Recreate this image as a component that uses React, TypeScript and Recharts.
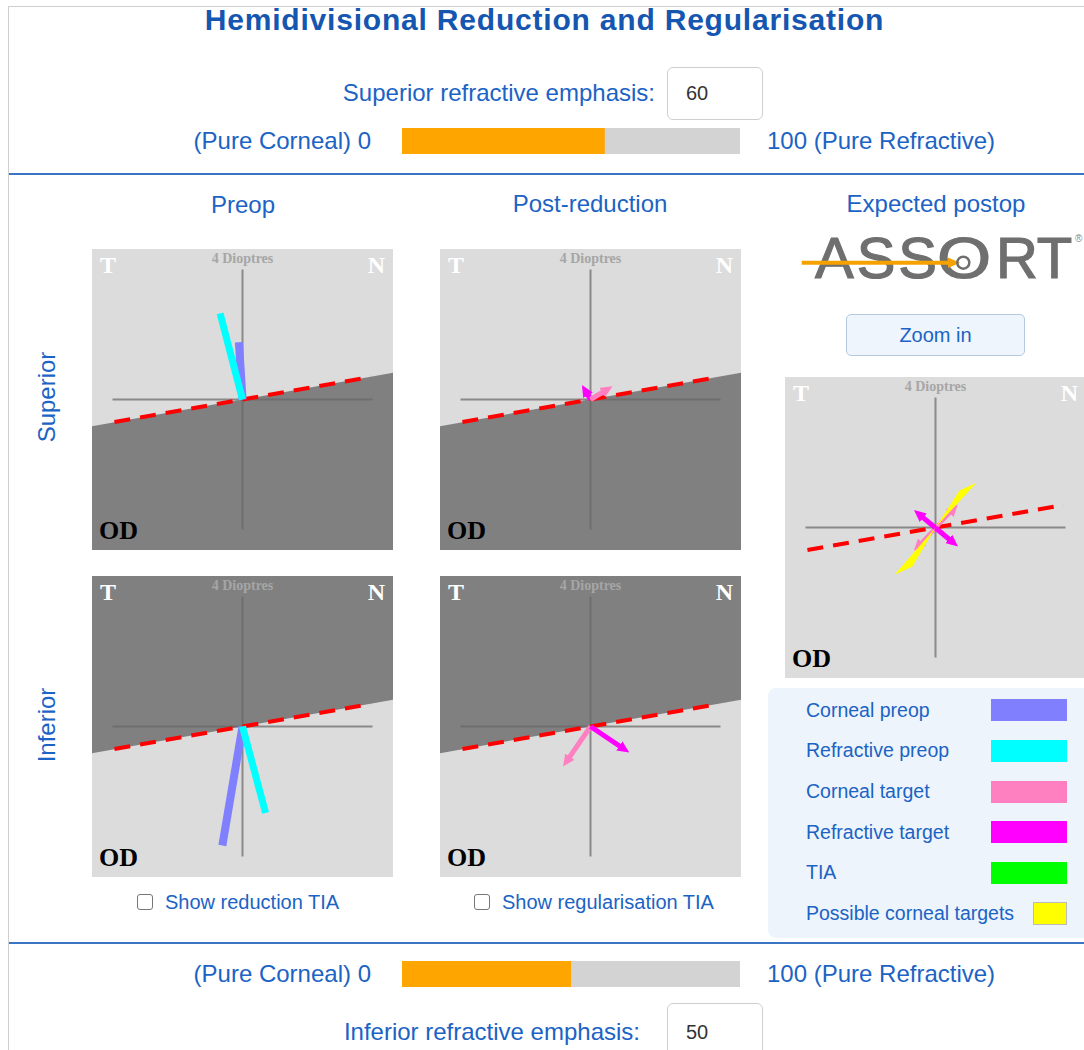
import React from 'react';
import { ComposedChart, BarChart, Bar, XAxis, YAxis, Line, Area, Scatter } from 'recharts';

const SANS = '"Liberation Sans", Arial, sans-serif';
const SERIF = '"Liberation Serif", "Times New Roman", serif';
const BLUE = '#1b63c4';

// refractive emphasis sliders (0 = pure corneal, 100 = pure refractive)
const superiorEmphasis = [{ name: 'Superior', value: 60 }];
const inferiorEmphasis = [{ name: 'Inferior', value: 50 }];

// plot extent, dioptres (axis arms are 4 D)
const LIMIT = 4.63;
const axisH = [{ x: -4, y: 0 }, { x: 4, y: 0 }];
const axisV = [{ x: 0, y: -4 }, { x: 0, y: 4 }];
const meridian = [{ x: -3.94, y: -0.69 }, { x: 3.94, y: 0.69 }];
const hemiEdge = [{ x: -4.63, y: -0.82 }, { x: 4.63, y: 0.82 }];

// preop vectors
const supCornealPreop = [{ x: 0, y: 0 }, { x: -0.11, y: 1.76 }];
const supRefractivePreop = [{ x: 0, y: 0 }, { x: -0.69, y: 2.65 }];
const infCornealPreop = [{ x: 0, y: 0 }, { x: -0.62, y: -3.66 }];
const infRefractivePreop = [{ x: 0, y: 0 }, { x: 0.71, y: -2.66 }];

// post-reduction targets
const supCornealTarget = [{ x: 0, y: 0 }, { x: 0.52, y: 0.31 }];
const supRefractiveTarget = [{ x: 0, y: 0 }, { x: -0.17, y: 0.29 }];
const infCornealTarget = [{ x: 0, y: 0 }, { x: -0.74, y: -1.08 }];
const infRefractiveTarget = [{ x: 0, y: 0 }, { x: 1.04, y: -0.7 }];

// expected postop
const postCornealTarget = [{ x: -0.54, y: -0.58 }, { x: 0.56, y: 0.57 }];
const postRefractiveTarget = [{ x: -0.52, y: 0.42 }, { x: 0.55, y: -0.47 }];
const possibleCornealTargets = [
  { x: 1.26, y: 1.38 }, { x: 0.74, y: 1.14 }, { x: 0, y: 0 },
  { x: -1.26, y: -1.45 }, { x: -0.71, y: -1.2 }, { x: 0, y: 0 },
];

const legendLabels = ['Corneal preop', 'Refractive preop', 'Corneal target', 'Refractive target', 'TIA', 'Possible corneal targets'];
const legendColors = ['#8080ff', '#00ffff', '#ff80c0', '#ff00ff', '#00ff00', '#ffff00'];

interface Vec {
  data: { x: number; y: number }[];
  color: string;
  width: number;
  arrow?: 'end' | 'both';
  marker?: string;
}

function Panel({ left, top, shade, vectors, polygon }: {
  left: number; top: number; shade: 'below' | 'above' | null; vectors: Vec[]; polygon?: { x: number; y: number }[];
}) {
  return (
    <div style={{ position: 'absolute', left, top, width: 301, height: 301, background: '#dcdcdc' }}>
      <ComposedChart width={301} height={301} margin={{ top: 0, right: 0, bottom: 0, left: 0 }}>
        <XAxis type="number" dataKey="x" domain={[-LIMIT, LIMIT]} allowDataOverflow hide />
        <YAxis type="number" dataKey="y" domain={[-LIMIT, LIMIT]} allowDataOverflow hide />
        {shade && (
          <Area data={hemiEdge} dataKey="y" type="linear" baseValue={shade === 'below' ? -LIMIT : LIMIT}
            fill="#808080" fillOpacity={1} stroke="none" isAnimationActive={false} />
        )}
        <Line data={axisH} dataKey="y" stroke="#676767" strokeOpacity={0.7} strokeWidth={2} dot={false} activeDot={false} isAnimationActive={false} />
        <Line data={axisV} dataKey="y" stroke="#676767" strokeOpacity={0.7} strokeWidth={2} dot={false} activeDot={false} isAnimationActive={false} />
        {polygon && (
          <Scatter data={polygon} fill="#ffff00" line={{ fill: '#ffff00', stroke: 'none' }} lineType="joint"
            shape={() => <g />} isAnimationActive={false} />
        )}
        <Line data={meridian} dataKey="y" stroke="#ff0000" strokeWidth={4} strokeDasharray="16 10" dot={false} activeDot={false} isAnimationActive={false} />
        {vectors.map((v, i) => (
          <Line key={i} data={v.data} dataKey="y" stroke={v.color} strokeWidth={v.width} dot={false} activeDot={false}
            isAnimationActive={false}
            markerEnd={v.marker ? `url(#${v.marker})` : undefined}
            markerStart={v.marker && v.arrow === 'both' ? `url(#${v.marker})` : undefined} />
        ))}
      </ComposedChart>
      <svg width={301} height={301} style={{ position: 'absolute', left: 0, top: 0, pointerEvents: 'none' }}>
        <text x={8} y={24} fill="#fff" fontFamily={SERIF} fontWeight="bold" fontSize={24}>T</text>
        <text x={293} y={24} fill="#fff" fontFamily={SERIF} fontWeight="bold" fontSize={24} textAnchor="end">N</text>
        <text x={150.5} y={14} fill="#a6a6a6" fontFamily={SERIF} fontWeight="bold" fontSize={14} textAnchor="middle">4 Dioptres</text>
        <text x={7} y={290} fill="#000" fontFamily={SERIF} fontWeight="bold" fontSize={26}>OD</text>
      </svg>
    </div>
  );
}

function Txt({ x, y, anchor = 'start', size = 24, color = BLUE, weight = 400, spacing = 0, children }: {
  x: number; y: number; anchor?: 'start' | 'middle' | 'end'; size?: number; color?: string; weight?: number; spacing?: number; children: React.ReactNode;
}) {
  const tx = anchor === 'middle' ? '-50%' : anchor === 'end' ? '-100%' : '0';
  return (
    <div style={{
      position: 'absolute', left: x, top: y - size / 2, lineHeight: `${size}px`, fontSize: size, letterSpacing: spacing,
      fontFamily: SANS, color, fontWeight: weight, whiteSpace: 'nowrap', transform: `translateX(${tx})`,
    }}>{children}</div>
  );
}

function Slider({ top, data }: { top: number; data: { name: string; value: number }[] }) {
  return (
    <div style={{ position: 'absolute', left: 402, top }}>
      <BarChart width={338} height={26} data={data} layout="vertical" barCategoryGap={0} margin={{ top: 0, right: 0, bottom: 0, left: 0 }}>
        <XAxis type="number" domain={[0, 100]} hide />
        <YAxis type="category" dataKey="name" hide />
        <Bar dataKey="value" fill="#ffa500" background={{ fill: '#d3d3d3' }} isAnimationActive={false} />
      </BarChart>
    </div>
  );
}

function Checkbox({ x, label }: { x: number; label: string }) {
  return (
    <>
      <div style={{ position: 'absolute', left: x, top: 894, width: 14, height: 14, border: '1px solid #767676', borderRadius: 3, background: '#fff' }} />
      <Txt x={x + 28} y={902} size={20}>{label}</Txt>
    </>
  );
}

export default function App() {
  return (
    <div style={{ position: 'absolute', left: 0, top: 0, width: 1084, height: 1050, overflow: 'hidden', background: '#fff', fontFamily: SANS }}>
      <svg width={0} height={0} style={{ position: 'absolute' }}>
        <defs>
          <marker id="arrow-magenta" viewBox="0 0 12 11" refX={6} refY={5.5} markerWidth={12} markerHeight={11} markerUnits="userSpaceOnUse" orient="auto-start-reverse">
            <path d="M0,0 L12,5.5 L0,11 z" fill="#ff00ff" />
          </marker>
          <marker id="arrow-pink" viewBox="0 0 12 11" refX={6} refY={5.5} markerWidth={12} markerHeight={11} markerUnits="userSpaceOnUse" orient="auto-start-reverse">
            <path d="M0,0 L12,5.5 L0,11 z" fill="#ff80c0" />
          </marker>
        </defs>
      </svg>

      {/* frame and separators */}
      <div style={{ position: 'absolute', left: 8, top: 6, width: 1100, height: 1100, borderLeft: '1px solid #cfcfcf', borderTop: '1px solid #cfcfcf' }} />
      <div style={{ position: 'absolute', left: 9, top: 173, width: 1080, height: 2, background: '#3a74c2' }} />
      <div style={{ position: 'absolute', left: 9, top: 942, width: 1080, height: 2, background: '#3a74c2' }} />

      <Txt x={544.5} y={20} anchor="middle" size={30} weight={700} spacing={0.8} color="#1456b0">Hemidivisional Reduction and Regularisation</Txt>

      {/* superior emphasis */}
      <Txt x={655} y={93} anchor="end">Superior refractive emphasis:</Txt>
      <div style={{ position: 'absolute', left: 667, top: 67, width: 94, height: 51, border: '1px solid #cfcfcf', borderRadius: 6 }} />
      <Txt x={686} y={93} size={20} color="#333">{superiorEmphasis[0].value}</Txt>
      <Txt x={371} y={141} anchor="end">(Pure Corneal) 0</Txt>
      <Slider top={128} data={superiorEmphasis} />
      <Txt x={767} y={141}>100 (Pure Refractive)</Txt>

      {/* column / row headers */}
      <Txt x={243} y={205} anchor="middle">Preop</Txt>
      <Txt x={590} y={204} anchor="middle">Post-reduction</Txt>
      <Txt x={936} y={204} anchor="middle">Expected postop</Txt>
      <div style={{ position: 'absolute', left: 47, top: 397, transform: 'translate(-50%,-50%) rotate(-90deg)', fontSize: 24, color: BLUE, whiteSpace: 'nowrap' }}>Superior</div>
      <div style={{ position: 'absolute', left: 47, top: 725, transform: 'translate(-50%,-50%) rotate(-90deg)', fontSize: 24, color: BLUE, whiteSpace: 'nowrap' }}>Inferior</div>

      <Panel left={92} top={249} shade="below" vectors={[
        { data: supCornealPreop, color: '#8080ff', width: 8 },
        { data: supRefractivePreop, color: '#00ffff', width: 7 },
      ]} />
      <Panel left={440} top={249} shade="below" vectors={[
        { data: supRefractiveTarget, color: '#ff00ff', width: 5, arrow: 'end', marker: 'arrow-magenta' },
        { data: supCornealTarget, color: '#ff80c0', width: 5, arrow: 'end', marker: 'arrow-pink' },
      ]} />
      <Panel left={92} top={576} shade="above" vectors={[
        { data: infCornealPreop, color: '#8080ff', width: 8 },
        { data: infRefractivePreop, color: '#00ffff', width: 7 },
      ]} />
      <Panel left={440} top={576} shade="above" vectors={[
        { data: infCornealTarget, color: '#ff80c0', width: 5, arrow: 'end', marker: 'arrow-pink' },
        { data: infRefractiveTarget, color: '#ff00ff', width: 5, arrow: 'end', marker: 'arrow-magenta' },
      ]} />
      <Panel left={785} top={377} shade={null} polygon={possibleCornealTargets} vectors={[
        { data: postCornealTarget, color: '#ff80c0', width: 4, arrow: 'both', marker: 'arrow-pink' },
        { data: postRefractiveTarget, color: '#ff00ff', width: 5, arrow: 'both', marker: 'arrow-magenta' },
      ]} />

      {/* ASSORT logo */}
      <svg width={294} height={70} style={{ position: 'absolute', left: 790, top: 225 }}>
        <text x={25} y={53.3} fontFamily={SANS} fontSize={58} fill="#6f6f6f" stroke="#6f6f6f" strokeWidth={1.2} letterSpacing={3}>ASS</text>
        <text x={174} y={53.3} fontFamily={SANS} fontSize={58} fill="#6f6f6f" stroke="#6f6f6f" strokeWidth={1.2} textAnchor="middle"
          transform="translate(174,0) scale(1.2,1) translate(-174,0)">O</text>
        <text x={206} y={53.3} fontFamily={SANS} fontSize={58} fill="#6f6f6f" stroke="#6f6f6f" strokeWidth={1.2}>RT</text>
        <line x1={11.7} y1={37.7} x2={162} y2={37.7} stroke="#f5a200" strokeWidth={4} />
        <path d="M158,32.5 L170,37.7 L158,43 z" fill="#f5a200" />
        <circle cx={173.3} cy={37.7} r={6} fill="none" stroke="#6f6f6f" strokeWidth={2.5} />
        <text x={285} y={17} fontFamily={SANS} fontSize={10} fill="#8a8a8a">®</text>
      </svg>

      <div style={{
        position: 'absolute', left: 846, top: 314, width: 177, height: 40, border: '1px solid #b7c9df', borderRadius: 5,
        background: '#eef5fd', color: BLUE, fontSize: 20, lineHeight: '40px', textAlign: 'center',
      }}>Zoom in</div>

      <Checkbox x={137} label="Show reduction TIA" />
      <Checkbox x={474} label="Show regularisation TIA" />

      {/* legend */}
      <div style={{ position: 'absolute', left: 768, top: 688, width: 330, height: 250, background: '#edf4fc', borderRadius: 8 }} />
      {legendLabels.map((label, i) => (
        <React.Fragment key={label}>
          <Txt x={806} y={710.5 + i * 40.6} size={19.5}>{label}</Txt>
          {i < 5 ? (
            <div style={{ position: 'absolute', left: 991, top: 699 + i * 40.8, width: 76, height: 22, background: legendColors[i] }} />
          ) : (
            <div style={{ position: 'absolute', left: 1033, top: 902, width: 32, height: 21, background: legendColors[i], border: '1px solid #bbb' }} />
          )}
        </React.Fragment>
      ))}

      {/* inferior emphasis */}
      <Txt x={371} y={974} anchor="end">(Pure Corneal) 0</Txt>
      <Slider top={961} data={inferiorEmphasis} />
      <Txt x={767} y={974}>100 (Pure Refractive)</Txt>
      <Txt x={640} y={1032} anchor="end">Inferior refractive emphasis:</Txt>
      <div style={{ position: 'absolute', left: 667, top: 1003, width: 94, height: 60, border: '1px solid #cfcfcf', borderRadius: 6 }} />
      <Txt x={686} y={1032} size={20} color="#333">{inferiorEmphasis[0].value}</Txt>
    </div>
  );
}
